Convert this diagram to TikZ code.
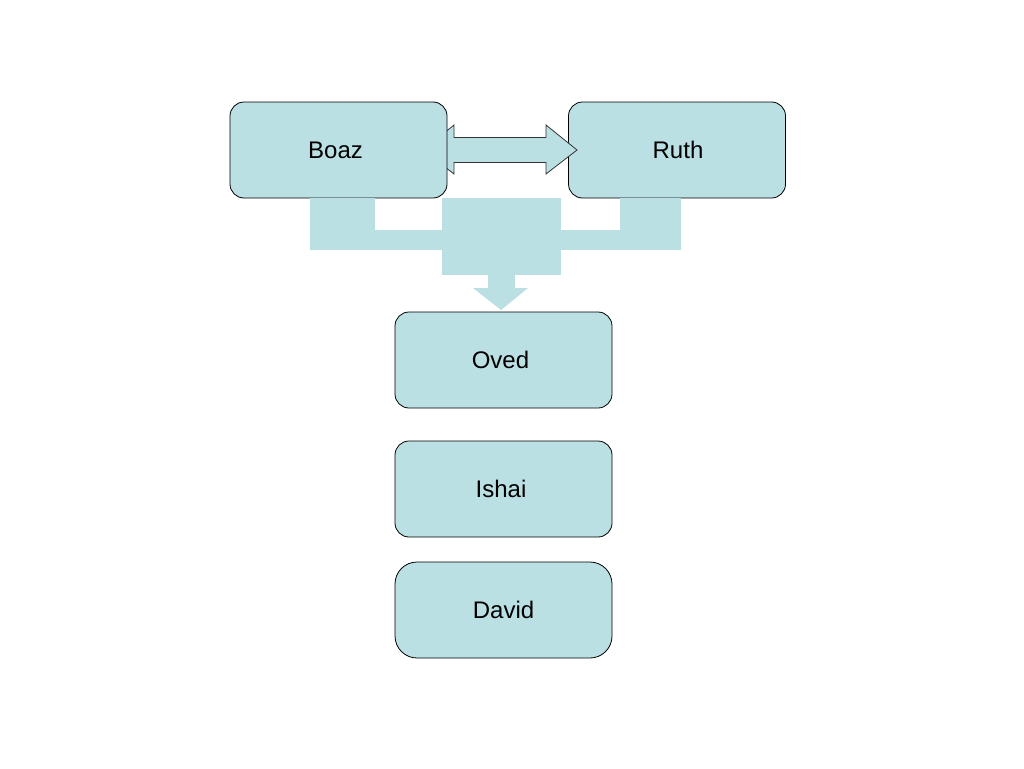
\documentclass[tikz,border=0pt]{standalone}
\usepackage{fontspec}
\setmainfont{Liberation Sans}
\definecolor{boxfill}{RGB}{187,224,227}
\begin{document}
\begin{tikzpicture}[x=1pt,y=-1pt,
  person/.style={draw=black, fill=boxfill, rounded corners=14pt, minimum width=217pt, minimum height=96pt, inner sep=0pt, line width=0.8pt},
  lbl/.style={font=\fontsize{24}{28}\selectfont, inner sep=0pt},
  flow/.style={fill=boxfill, draw=none},
  dblarrow/.style={fill=boxfill, draw=black!80, line width=0.8pt, line join=miter}]
\useasboundingbox (0,0) rectangle (1024,768);
\node[person, label={[lbl, xshift=1pt]center:Ruth}] (ruth) at (677,150) {};
% double arrow (over Ruth, under Boaz)
\coordinate (dL) at (423,150);
\coordinate (dR) at (577,150);
\draw[dblarrow] (dL) -- (454,125) -- (454,137.5) -- (546,137.5) -- (546,125) -- (dR) -- (546,174) -- (546,162.5) -- (454,162.5) -- (454,174) -- cycle;
\node[person, label={[lbl, xshift=-3pt]center:Boaz}] (boaz) at (338.5,150) {};
\node[person, label={[lbl, xshift=-3pt]center:Oved}] (oved) at (503.5,360) {};
\node[person, label={[lbl, xshift=-2.5pt]center:Ishai}] (ishai) at (503.5,489) {};
\node[person, rounded corners=22pt, label={[lbl]center:David}] (david) at (503.5,610) {};
% merging flow connector
\coordinate (tip) at (501,310);
\fill[flow] (310,198) rectangle (375,250);
\fill[flow] (310,230) rectangle (442,250);
\fill[flow] (620,198) rectangle (681,250);
\fill[flow] (560,230) rectangle (681,250);
\fill[flow] (441.5,198) rectangle (561,275);
\fill[flow] (488,274) rectangle (515,289);
\fill[flow] (473,288) -- (528,288) -- (tip) -- cycle;
\end{tikzpicture}
\end{document}
